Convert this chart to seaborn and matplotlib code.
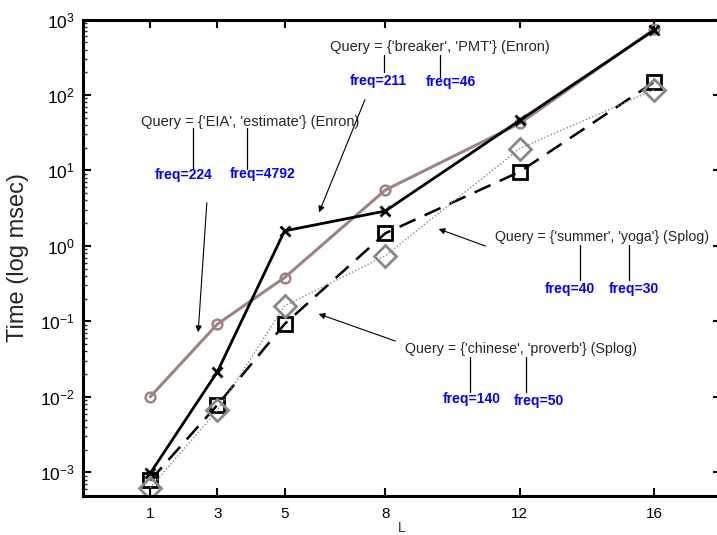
import matplotlib
matplotlib.use("Agg")
import matplotlib.pyplot as plt
import matplotlib.ticker as mticker
import numpy as np
import pandas as pd
import seaborn as sns

# Query lengths on the x axis
L_values = [1, 3, 5, 8, 12, 16]

# Running time (msec) for each query
time_eia_estimate = [0.0100, 0.092, 0.38, 5.5, 42.0, 740.0]
time_breaker_pmt = [0.00097, 0.0215, 1.58, 2.9, 46.0, 720.0]
time_chinese_proverb = [0.00078, 0.0078, 0.092, 1.47, 9.6, 148.0]
time_summer_yoga = [0.00062, 0.0066, 0.16, 0.74, 19.5, 117.0]

x_ticks = [1, 3, 5, 8, 12, 16]
y_exponents = [-3, -2, -1, 0, 1, 2, 3]

sns.set_theme(style="white")
plt.rcParams["font.family"] = ["Liberation Sans", "DejaVu Sans"]
plt.rcParams["mathtext.fontset"] = "custom"
plt.rcParams["mathtext.rm"] = "Liberation Sans"
plt.rcParams["mathtext.it"] = "Liberation Sans:italic"

fig = plt.figure(figsize=(7.17, 5.35), dpi=100)
ax = fig.add_axes([0.1158, 0.0735, 0.89, 0.89])

series = [
    (time_eia_estimate, dict(color="#a08282", linestyle="-", marker="o", markersize=7,
                             markerfacecolor="none", markeredgecolor="#a08282",
                             markeredgewidth=1.8, linewidth=2.2)),
    (time_breaker_pmt, dict(color="black", linestyle="-", marker="x", markersize=7,
                            markeredgecolor="black", markeredgewidth=2, linewidth=2.0)),
    (time_chinese_proverb, dict(color="black", linestyle=(0, (7, 4)), marker="s", markersize=10,
                                markerfacecolor="none", markeredgecolor="black",
                                markeredgewidth=2, linewidth=1.8)),
    (time_summer_yoga, dict(color="#888888", linestyle=(0, (1, 1.5)), marker="D", markersize=11,
                            markerfacecolor="none", markeredgecolor="#888888",
                            markeredgewidth=2, linewidth=1.0)),
]

for values, style in series:
    df = pd.DataFrame({"L": L_values, "Time": values})
    sns.lineplot(data=df, x="L", y="Time", ax=ax, **style)

ax.set_yscale("log")
ax.set_xlim(-1, 18)
ax.set_ylim(10 ** -3.31, 1e3)
ax.set_xticks(x_ticks)
ax.set_xticklabels([str(v) for v in x_ticks])
ax.set_yticks([10.0 ** e for e in y_exponents])
ax.set_yticklabels([r"$10^{%d}$" % e for e in y_exponents])
minor = [m * 10.0 ** e for e in range(-4, 3) for m in range(2, 10)]
ax.set_yticks([v for v in minor if 10 ** -3.31 < v < 1e3], minor=True)
ax.yaxis.set_minor_formatter(mticker.NullFormatter())

ax.tick_params(axis="both", which="major", direction="in", length=6, width=1.5,
               top=True, right=True, bottom=True, left=True, colors="black")
ax.tick_params(axis="y", which="minor", direction="in", length=3, width=1.0, right=True, left=True)
ax.tick_params(axis="x", labelsize=11, pad=8)
ax.tick_params(axis="y", labelsize=12.5, pad=6)
for s in ax.spines.values():
    s.set_linewidth(2.2)
    s.set_color("black")

ax.set_xlabel("L", fontsize=10, labelpad=0)
ax.set_ylabel("Time (log msec)", fontsize=17, labelpad=8)
ax.grid(False)


def px(x, y):
    return fig.transFigure.inverted().transform((x, 535 - y))


def query_block(text, tx, ty, stems, labels, size=10.5):
    fig.text(*px(tx, ty), text, fontsize=size, ha="left", va="center")
    for (sx, y0, y1), (lab, lx, ly) in zip(stems, labels):
        fig.add_artist(plt.Line2D(*zip(px(sx, y0), px(sx, y1)), color="black", linewidth=0.9))
        fig.text(*px(lx, ly), lab, fontsize=10, fontweight="bold", color="#0000ff",
                 ha="center", va="center")


def arrow(x0, y0, x1, y1):
    fig.add_artist(matplotlib.patches.FancyArrowPatch(
        px(x0, y0), px(x1, y1), transform=fig.transFigure,
        arrowstyle="-|>", mutation_scale=9, color="black", linewidth=0.8))


query_block("Query = {'EIA', 'estimate'} (Enron)", 141, 122,
            [(193, 128, 169), (247, 128, 169)],
            [("freq=224", 184, 175), ("freq=4792", 263, 174)])
arrow(207, 200, 198, 335)

query_block("Query = {'breaker', 'PMT'} (Enron)", 330, 47,
            [(384, 55, 72), (440, 55, 77)],
            [("freq=211", 378, 81), ("freq=46", 451, 82)])
arrow(366, 97, 318, 215)

query_block("Query = {'summer', 'yoga'} (Splog)", 495, 237,
            [(580, 245, 280), (629, 245, 280)],
            [("freq=40", 570, 289), ("freq=30", 634, 289)], size=10.2)
arrow(488, 247, 436, 228)

query_block("Query = {'chinese', 'proverb'} (Splog)", 405, 349,
            [(470, 357, 392), (526, 357, 392)],
            [("freq=140", 472, 399), ("freq=50", 539, 401)], size=10.3)
arrow(398, 342, 316, 313)

fig.savefig("out.png", dpi=100)
